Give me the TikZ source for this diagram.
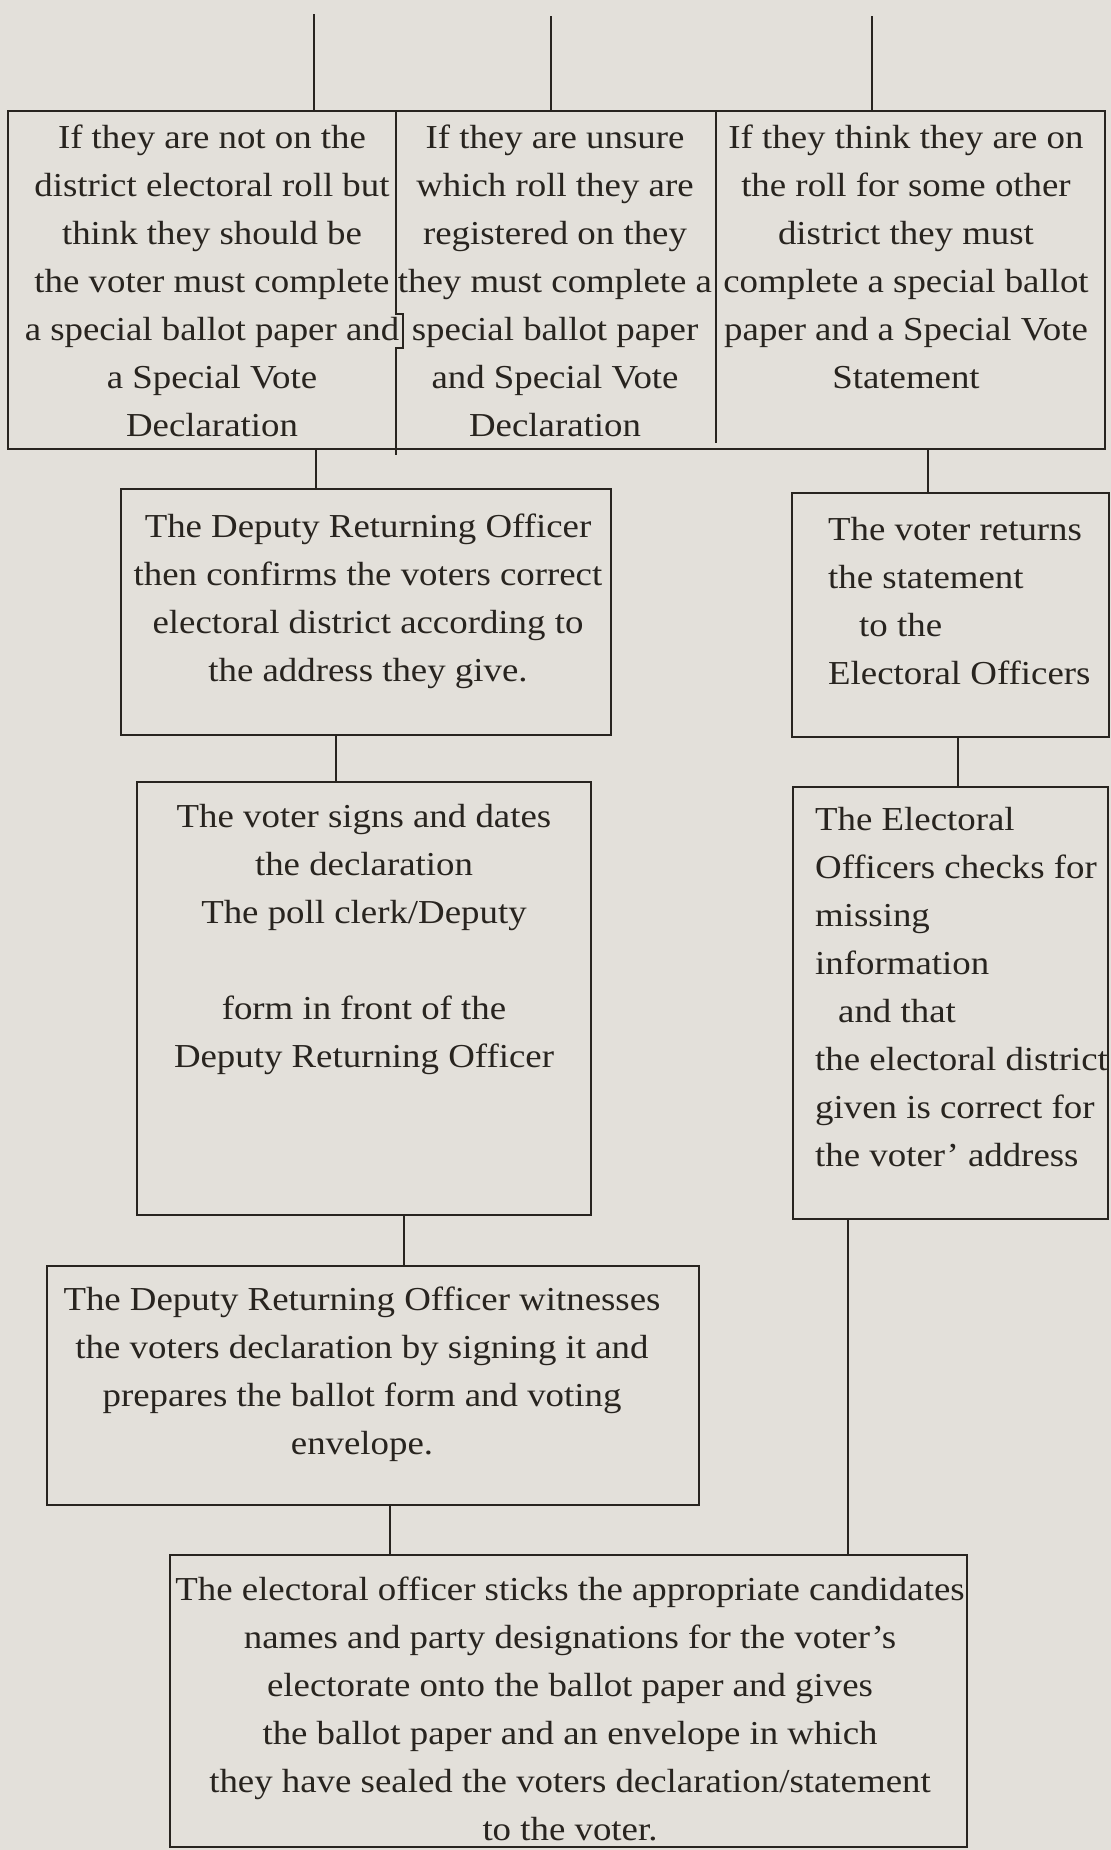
\documentclass[tikz,border=0pt]{standalone}
\usepackage{fontspec}
\setmainfont{Liberation Serif}[FakeStretch=1.1]
\definecolor{paper}{HTML}{E3E0DA}
\definecolor{ink}{HTML}{28241F}
\begin{document}
\begin{tikzpicture}[x=1pt,y=-1pt]
  \tikzstyle{box}=[draw=ink,line width=2.3pt,anchor=north west,inner sep=0pt,outer sep=0pt]
  \tikzstyle{words}=[anchor=base,inner sep=0pt,text=ink,align=center,font=\fontsize{33.5}{48}\selectfont]
  \tikzstyle{link}=[draw=ink,line width=2pt]
  \fill[paper] (0,0) rectangle (1111,1850);
  \useasboundingbox (0,0) rectangle (1111,1850);

  \node[box,minimum width=1097pt,minimum height=338pt] (row) at (8,111) {};
  \node[box,minimum width=490pt,minimum height=246pt] (confirm) at (121,489) {};
  \node[box,minimum width=317pt,minimum height=244pt] (returns) at (792,493) {};
  \node[box,minimum width=454pt,minimum height=433pt] (signs) at (137,782) {};
  \node[box,minimum width=315pt,minimum height=432pt] (checks) at (793,787) {};
  \node[box,minimum width=652pt,minimum height=239pt] (witness) at (47,1266) {};
  \node[box,minimum width=797pt,minimum height=292pt] (final) at (170,1555) {};

  \draw[box] ([xshift=388pt]row.north west) -- ++(0,203) -- ++(7,0) -- ++(0,34) -- ++(-7,0)
    -- ([xshift=388pt,yshift=-6pt]row.south west);
  \draw[box] ([xshift=708pt]row.north west) -- ([xshift=708pt,yshift=6pt]row.south west);

  \node[words] (notroll) at (212,436) {If they are not on the\\district electoral roll but\\think they should be\\the voter must complete\\a special ballot paper and\\a Special Vote\\Declaration};
  \node[words] (unsure) at (555,436) {If they are unsure\\which roll they are\\registered on they\\they must complete a\\special ballot paper\\and Special Vote\\Declaration};
  \node[words] (otherroll) at (906,388) {If they think they are on\\the roll for some other\\district they must\\complete a special ballot\\paper and a Special Vote\\Statement};
  \node[words] (confirmtext) at (368,681) {The Deputy Returning Officer\\then confirms the voters correct\\electoral district according to\\the address they give.};
  \node[words,align=left,anchor=base west] (returnstext) at (828,684) {The voter returns\\the statement\\\hspace*{31pt}to the\\Electoral Officers};
  \node[words] (signstext) at (364,1067) {The voter signs and dates\\the declaration\\The poll clerk/Deputy\\[48pt]form in front of the\\Deputy Returning Officer};
  \node[words,align=left,anchor=base west] (checkstext) at (815,1166) {The Electoral\\Officers checks for\\missing\\information\\\hspace*{23pt}and that\\the electoral district\\given is correct for\\the voter’ address};
  \node[words] (witnesstext) at (362,1454) {The Deputy Returning Officer witnesses\\the voters declaration by signing it and\\prepares the ballot form and voting\\envelope.};
  \node[words] (finaltext) at (570,1840) {The electoral officer sticks the appropriate candidates\\names and party designations for the voter’s\\electorate onto the ballot paper and gives\\the ballot paper and an envelope in which\\they have sealed the voters declaration/statement\\to the voter.};

  \coordinate (in1) at (314,14);
  \coordinate (in2) at (551,16);
  \coordinate (in3) at (872,16);
  \draw[link] (in1) -- (in1 |- row.north);
  \draw[link] (in2) -- (in2 |- row.north);
  \draw[link] (in3) -- (in3 |- row.north);
  \draw[link] ([xshift=-50pt]confirm.north |- row.south) -- ([xshift=-50pt]confirm.north);
  \draw[link] ([xshift=-22.5pt]returns.north |- row.south) -- ([xshift=-22.5pt]returns.north);
  \draw[link] ([xshift=-28pt]signs.north |- confirm.south) -- ([xshift=-28pt]signs.north);
  \draw[link] ([xshift=7.5pt]checks.north |- returns.south) -- ([xshift=7.5pt]checks.north);
  \draw[link] ([xshift=31pt]witness.north |- signs.south) -- ([xshift=31pt]witness.north);
  \draw[link] ([xshift=-178.5pt]final.north |- witness.south) -- ([xshift=-178.5pt]final.north);
  \draw[link] ([xshift=-102.5pt]checks.south) -- ([xshift=-102.5pt]checks.south |- final.north);
\end{tikzpicture}
\end{document}
